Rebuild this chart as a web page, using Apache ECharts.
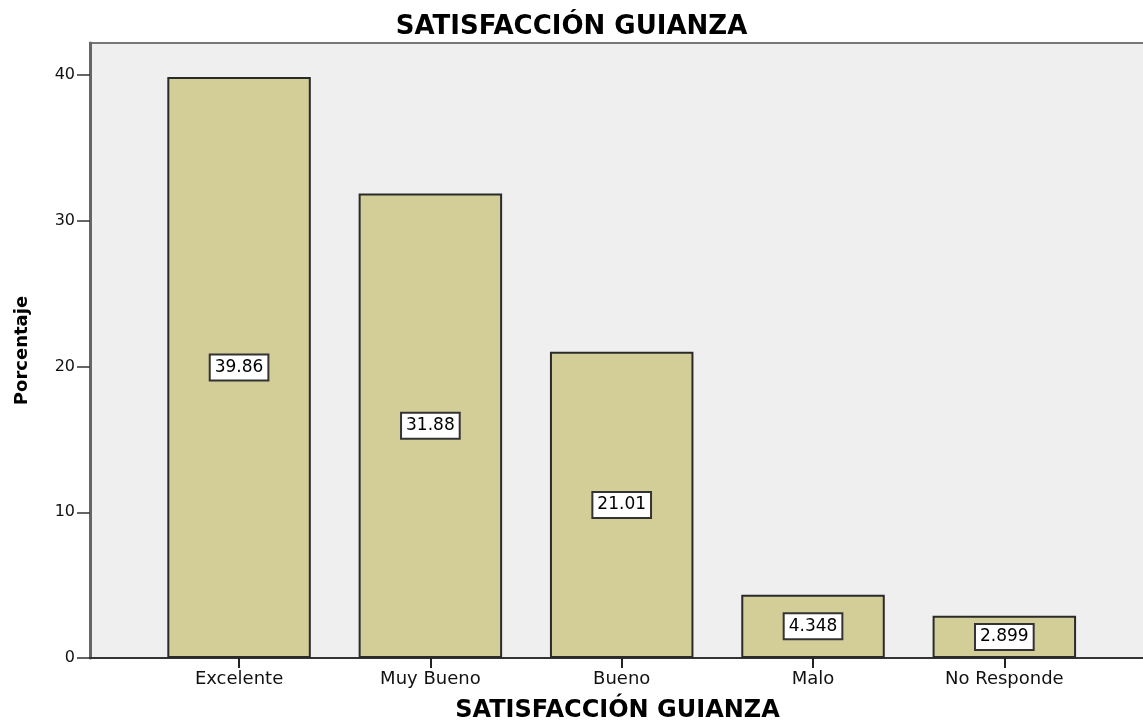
<!DOCTYPE html>
<html>
<head>
<meta charset="utf-8">
<script src="https://cdn.jsdelivr.net/npm/echarts@6/dist/echarts.min.js"></script>
<style>html,body{margin:0;padding:0;background:#fff;}#c{width:1143px;height:724px;}</style>
</head>
<body>
<div id="c"></div>
<script>
var categories = ['Excelente', 'Muy Bueno', 'Bueno', 'Malo', 'No Responde'];
var values = [39.86, 31.88, 21.01, 4.348, 2.899];
var yTicks = [0, 10, 20, 30, 40];
var titleText = 'SATISFACCIÓN GUIANZA';
var xName = 'SATISFACCIÓN GUIANZA';
var yName = 'Porcentaje';

var FONT = '"DejaVu Sans", Verdana, sans-serif';
var chart = echarts.init(document.getElementById('c'), null, {renderer: 'canvas'});
var yMax = 42.2;
chart.setOption({
  animation: false,
  backgroundColor: '#ffffff',
  title: {
    text: titleText, left: 'center', top: 9,
    textStyle: {fontFamily: FONT, fontSize: 26, fontWeight: 'bold', color: '#000'}
  },
  grid: [
    {left: 90, right: -2, top: 43, bottom: 66, show: true, backgroundColor: '#efefef',
     borderColor: '#777', borderWidth: 2, outerBoundsMode: 'none', containLabel: false},
    {left: 143.4, right: 43, top: 43, bottom: 66, outerBoundsMode: 'none', containLabel: false}
  ],
  xAxis: [
    {gridIndex: 0, type: 'value', min: 0, max: 1,
     axisLine: {show: true, lineStyle: {color: '#333', width: 2}},
     axisTick: {show: false}, axisLabel: {show: false}, splitLine: {show: false},
     name: xName, nameLocation: 'middle', nameGap: 41,
     nameTextStyle: {fontFamily: FONT, fontSize: 24, fontWeight: 'bold', color: '#000'}},
    {gridIndex: 1, type: 'category', data: categories,
     axisLine: {show: false},
     axisTick: {show: true, alignWithLabel: true, length: 10, lineStyle: {color: '#222', width: 2}},
     axisLabel: {fontFamily: FONT, fontSize: 18, color: '#111', margin: 12}}
  ],
  yAxis: [
    {gridIndex: 0, type: 'value', min: 0, max: yMax, interval: 10,
     axisLine: {show: true, lineStyle: {color: '#666', width: 3}},
     axisTick: {show: true, length: 13, lineStyle: {color: '#333', width: 1.5}},
     axisLabel: {fontFamily: FONT, fontSize: 16, color: '#111', margin: 15, showMaxLabel: false,
       formatter: function (v) { return yTicks.indexOf(v) >= 0 ? String(v) : ''; }},
     splitLine: {show: false},
     name: yName, nameLocation: 'middle', nameGap: 59, nameRotate: 90,
     nameTextStyle: {fontFamily: FONT, fontSize: 18, fontWeight: 'bold', color: '#000'}},
    {gridIndex: 1, type: 'value', min: 0, max: yMax, interval: 10, show: false}
  ],
  series: [{
    type: 'bar', xAxisIndex: 1, yAxisIndex: 1,
    data: values, barWidth: '75%',
    itemStyle: {color: '#d3ce97', borderColor: '#2a2a2a', borderWidth: 2},
    label: {
      show: true, position: 'inside',
      formatter: function (p) { return String(p.value); },
      fontFamily: FONT, fontSize: 17, color: '#000',
      backgroundColor: '#ffffff', borderColor: '#333', borderWidth: 2,
      padding: [4, 4, 3, 4]
    }
  }]
});
</script>
</body>
</html>
